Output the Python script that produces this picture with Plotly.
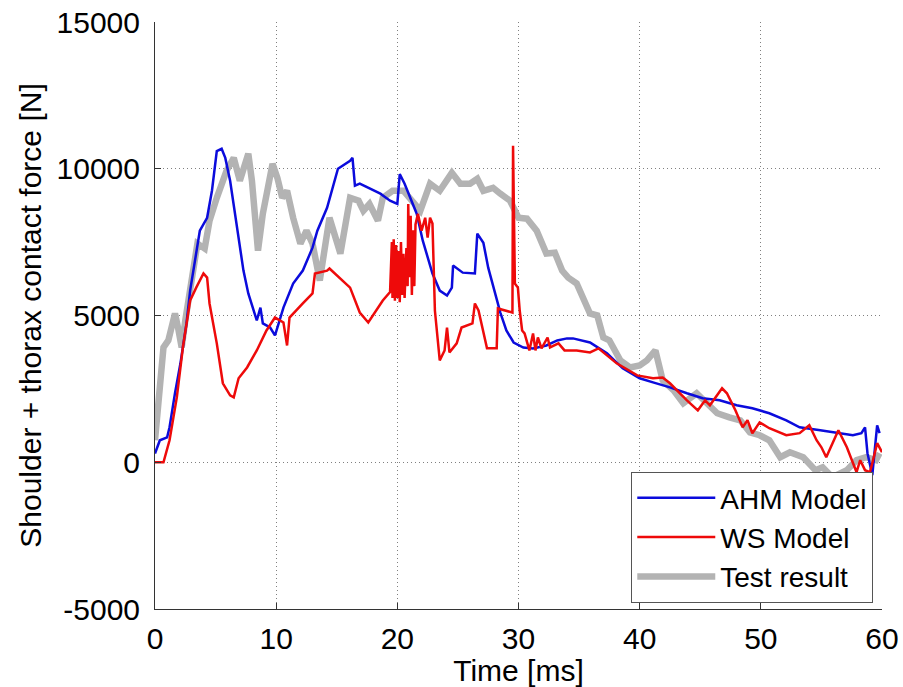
import plotly.graph_objects as go

# ---- Data ----
ahm_t = [0.0, 0.4, 1.0, 1.2, 1.65, 2.1, 2.6, 2.9, 3.7, 4.3, 4.7, 5.1, 5.5, 5.8, 6.2, 6.8, 7.3, 7.7,
         8.4, 8.7, 8.9, 9.5, 9.9, 10.1, 10.6, 11.4, 12.2, 13.0, 13.4, 14.2, 15.1, 16.1, 16.3, 16.5,
         16.9, 18.6, 19.4, 20.0, 20.2, 20.6, 21.6, 22.1, 22.9, 23.5, 24.1, 24.5, 24.6, 25.4, 26.4,
         26.6, 27.1, 27.5, 28.2, 28.5, 29.0, 29.6, 30.4, 31.2, 32.3, 33.2, 34.0, 34.5, 35.9, 37.3,
         38.6, 40.0, 41.1, 42.5, 43.9, 45.2, 46.6, 48.0, 49.3, 50.7, 52.1, 53.2, 54.9, 56.3, 57.6,
         58.3, 58.6, 58.8, 59.2, 59.6, 59.8]
ahm_f = [300, 750, 850, 1190, 2350, 3370, 4730, 5850, 7890, 8330, 9250, 10600, 10680, 10370, 9590,
         7890, 6530, 5750, 4830, 5270, 4730, 4590, 4320, 4590, 5270, 6090, 6530, 7310, 7890, 8670,
         10000, 10270, 10370, 9420, 9490, 9150, 8910, 8800, 9820, 9490, 8470, 7550, 6430, 5850,
         5680, 5950, 6700, 6460, 6430, 7790, 7480, 6630, 5610, 5100, 4490, 4080, 3910, 3880, 3980,
         4150, 4220, 4220, 4080, 3710, 3200, 2860, 2720, 2550, 2350, 2180, 2110, 1940, 1840, 1670,
         1430, 1190, 1090, 990, 920, 990, 1190, 310, -440, 1260, 990]

ws_t = [0.0, 0.7, 1.2, 1.8, 2.3, 2.9, 3.4, 4.0, 4.3, 4.5, 5.1, 5.6, 6.2, 6.5, 6.9, 7.6, 8.4, 9.2,
        9.9, 10.6, 10.9, 11.1, 12.2, 13.0, 13.2, 14.2, 14.4, 16.1, 16.9, 17.6, 18.8, 19.4, 19.55,
        19.6, 19.7, 19.8, 19.9, 20.0, 20.1, 20.2, 20.3, 20.4, 20.5, 20.6, 20.75, 20.85, 20.9, 21.0,
        21.1, 21.2, 21.3, 21.4, 21.5, 21.7, 22.0, 22.3, 22.5, 22.7, 22.9, 23.1, 23.5, 23.9, 24.1,
        24.3, 24.9, 25.3, 26.2, 26.4, 26.7, 27.4, 28.2, 28.3, 29.5, 29.55, 29.7, 29.95, 30.1, 30.3,
        30.5, 30.9, 31.2, 31.4, 31.6, 31.9, 32.4, 32.6, 33.3, 33.8, 34.8, 35.9, 36.6, 38.1, 39.8,
        41.1, 41.9, 42.5, 43.9, 44.8, 45.4, 45.8, 46.8, 47.2, 47.9, 48.5, 48.9, 49.3, 49.9, 50.7,
        52.1, 53.2, 54.0, 54.6, 55.0, 55.4, 56.4, 57.1, 57.9, 58.2, 58.6, 59.0, 59.2, 59.6, 60.0]
ws_f = [0, 0, 750, 2210, 3910, 5510, 5950, 6430, 6290, 5410, 4050, 2690, 2280, 2210, 2860, 3230,
        3810, 4490, 4930, 4760, 3980, 4930, 5410, 5750, 6430, 6530, 6600, 5950, 5100, 4760, 5510,
        5800, 7500, 5600, 7600, 5500, 7400, 5600, 7200, 5450, 7500, 5700, 7100, 5600, 7300, 6000,
        8800, 6300, 8400, 5700, 7900, 6000, 8100, 8470, 7890, 8330, 7650, 8330, 8130, 5170, 3470,
        3810, 4590, 3740, 4050, 4590, 4730, 5410, 5170, 3880, 3880, 5240, 5100, 10780, 6090, 5950,
        5170, 4490, 4390, 3810, 4390, 3810, 4250, 3880, 4250, 3910, 4050, 3810, 3810, 3740, 3880,
        3370, 2960, 2860, 2890, 2690, 2110, 1770, 2110, 1940, 2520, 2350, 1770, 1190, 1430, 990,
        1360, 1160, 920, 990, 1260, 750, 510, 170, 1090, 510, -340, 70, -270, -340, -30, 650, 340]

test_t = [0.0, 0.4, 0.7, 1.1, 1.4, 1.65, 1.9, 2.2, 2.5, 3.1, 3.5, 4.1, 4.5, 5.1, 5.9, 6.5, 7.0,
          7.7, 8.0, 8.5, 8.9, 9.7, 10.1, 10.5, 10.9, 11.4, 12.0, 12.5, 13.0, 13.6, 14.4, 15.3,
          16.1, 16.8, 17.2, 17.7, 18.4, 18.8, 19.6, 20.5, 21.9, 22.7, 23.5, 24.5, 25.2, 26.0,
          26.6, 27.1, 27.9, 28.5, 29.3, 30.0, 30.7, 31.5, 32.3, 33.0, 33.6, 34.1, 34.8, 35.9,
          36.5, 37.0, 37.5, 38.4, 39.2, 40.0, 40.6, 41.3, 41.5, 41.9, 42.8, 43.6, 44.7, 45.5,
          46.4, 47.4, 48.3, 49.1, 49.9, 50.7, 51.6, 52.4, 53.5, 54.5, 55.1, 55.9, 57.1, 57.9,
          58.7, 59.5, 59.8]
test_f = [750, 2790, 3910, 4150, 4730, 5070, 4590, 3910, 4830, 6630, 7450, 7280, 8230, 9010, 9930,
          10370, 9590, 10510, 9590, 7210, 8470, 10170, 9690, 9010, 9250, 8330, 7450, 7890, 7450,
          6190, 8330, 7110, 9010, 8910, 8570, 8800, 8230, 9010, 9250, 9250, 8570, 9490, 9250, 9860,
          9490, 9490, 9660, 9250, 9350, 9150, 8910, 8330, 8300, 7890, 7110, 7140, 6530, 6290, 6090,
          5070, 5000, 4250, 4150, 3470, 3230, 3300, 3470, 3810, 3470, 2790, 2450, 2010, 2350, 2010,
          1670, 1530, 1430, 1020, 920, 750, 170, 340, 170, -270, -170, -510, -270, 70, 170, 70, 310]

series_names = ["AHM Model", "WS Model", "Test result"]
x_ticks = [0, 10, 20, 30, 40, 50, 60]
x_tick_labels = ["0", "10", "20", "30", "40", "50", "60"]
y_ticks = [-5000, 0, 5000, 10000, 15000]
y_tick_labels = ["-5000", "0", "5000", "10000", "15000"]

FONT = "Liberation Sans, Arial, sans-serif"

fig = go.Figure()
fig.add_trace(go.Scatter(x=test_t, y=test_f, mode="lines", name=series_names[2],
                         line=dict(color="#b3b3b3", width=6.5), legendrank=3))
fig.add_trace(go.Scatter(x=ahm_t, y=ahm_f, mode="lines", name=series_names[0],
                         line=dict(color="#0b0bdc", width=2.5), legendrank=1))
fig.add_trace(go.Scatter(x=ws_t, y=ws_f, mode="lines", name=series_names[1],
                         line=dict(color="#ee0a0a", width=2.5), legendrank=2))

axis_common = dict(
    showgrid=True, gridcolor="#808080", griddash="1px,3px", gridwidth=1,
    zeroline=False, showline=True, linecolor="#333333", linewidth=1,
    ticks="inside", ticklen=6, tickcolor="#333333",
    tickfont=dict(family=FONT, size=30, color="black"),
    automargin=False,
)

fig.update_layout(
    width=903, height=687,
    margin=dict(l=155, r=21, t=22, b=78),
    paper_bgcolor="white", plot_bgcolor="white",
    font=dict(family=FONT, color="black"),
    showlegend=True,
    legend=dict(x=0.988, y=0.0102, xanchor="right", yanchor="bottom",
                bgcolor="white", bordercolor="#555555", borderwidth=1,
                font=dict(family=FONT, size=28, color="black"),
                tracegroupgap=0, itemwidth=78),
    xaxis=dict(range=[0, 60], tickvals=x_ticks, ticktext=x_tick_labels,
               ticklabelstandoff=3,
               title=dict(text="Time [ms]", font=dict(family=FONT, size=30), standoff=6),
               **axis_common),
    yaxis=dict(range=[-5000, 15000], tickvals=y_ticks, ticktext=y_tick_labels,
               ticklabelstandoff=8,
               title=dict(text="Shoulder + thorax contact force [N]",
                          font=dict(family=FONT, size=30), standoff=6),
               **axis_common),
)

fig.write_html("out.html")
